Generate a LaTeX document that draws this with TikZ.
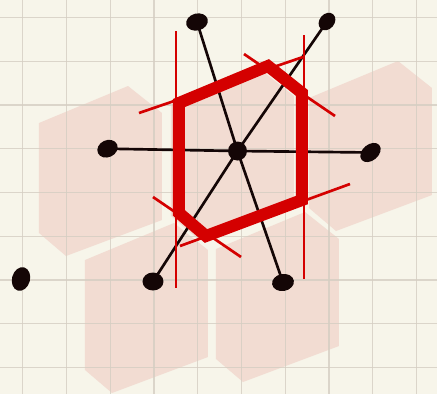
\documentclass[tikz,border=0pt]{standalone}
\begin{document}
\begin{tikzpicture}[x=0.75pt,y=-0.75pt,
  gridline/.style={draw=gridc,line width=1pt},
  pinkhex/.style={fill=pinkc},
  conn/.style={draw=dotc,line width=2pt},
  thinred/.style={draw=redc,line width=2pt},
  thickred/.style={draw=redc,line width=9pt,line join=miter},
  dotfill/.style={fill=dotc}]
\definecolor{bgc}{HTML}{F7F5EA}
\definecolor{gridc}{HTML}{D5CEC2}
\definecolor{pinkc}{HTML}{F2DCD2}
\definecolor{redc}{HTML}{D40000}
\definecolor{dotc}{HTML}{140606}
\newcommand\wshex{(179,103) -- (268,66) -- (302,93) -- (302,200) -- (206,236) -- (179,213) -- cycle}
\useasboundingbox (0,0) rectangle (437,394);
\fill[bgc] (0,0) rectangle (437,394);
% pink cells
\fill[pinkhex,shift={(-140,20)}] \wshex;
\fill[pinkhex,shift={(130,-5)}] \wshex;
\fill[pinkhex,shift={(-94,157)}] \wshex;
\fill[pinkhex,shift={(37,146)}] \wshex;
\fill[pinkhex,shift={(-8,3)}] \wshex;
% grid
\begin{scope}[opacity=0.8]
\foreach \i in {0,...,9} {\draw[gridline] ({22.7+43.75*\i},0) -- ({22.7+43.75*\i},394);}
\foreach \j in {0,...,8} {\draw[gridline] (0,{17.5+43.75*\j}) -- (437,{17.5+43.75*\j});}
\end{scope}
% lattice points
\coordinate (c) at (237.5,151);
\coordinate (l) at (107.5,148.7);
\coordinate (r) at (370.5,152.5);
\coordinate (tl) at (197,22);
\coordinate (tr) at (327,21.5);
\coordinate (bl) at (153,281.5);
\coordinate (br) at (283,282.5);
\coordinate (lone) at (21,279);
% connectors
\draw[conn] (c) -- (l);
\draw[conn] (c) -- (r);
\draw[conn] (c) -- (tl);
\draw[conn] (c) -- (tr);
\draw[conn] (c) -- (bl);
\draw[conn] (c) -- (br);
% bisectors
\draw[thinred] (176,31) -- (176,288);
\draw[thinred] (304,35) -- (304,279);
\draw[thinred] (139,113) -- (303,57);
\draw[thinred] (244,54) -- (335,116);
\draw[thinred] (350,184) -- (180,246);
\draw[thinred] (153,197) -- (241,257);
% Wigner-Seitz cell
\draw[thickred] \wshex;
% dots
\fill[dotfill,shift={(c)}] (0,0) circle (9.5);
\fill[dotfill,shift={(l)},rotate=25] (0,0) ellipse (10.5 and 8.5);
\fill[dotfill,shift={(r)},rotate=40] (0,0) ellipse (11.5 and 8);
\fill[dotfill,shift={(tl)},rotate=15] (0,0) ellipse (11 and 8.5);
\fill[dotfill,shift={(tr)},rotate=50] (0,0) ellipse (9.5 and 7.5);
\fill[dotfill,shift={(bl)}] (0,0) ellipse (10.5 and 9);
\fill[dotfill,shift={(br)},rotate=10] (0,0) ellipse (11 and 8.5);
\fill[dotfill,shift={(lone)},rotate=75] (0,0) ellipse (12 and 9);
\end{tikzpicture}
\end{document}
